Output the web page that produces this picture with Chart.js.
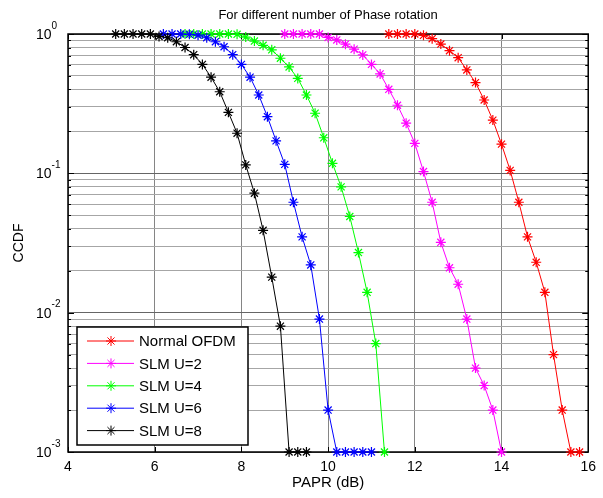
<!DOCTYPE html>
<html lang="en">
<head>
<meta charset="UTF-8">
<title>PAPR CCDF - Phase rotation</title>
<script src="https://cdn.jsdelivr.net/npm/chart.js"></script>
<style>
  html, body { margin: 0; padding: 0; background: #fff; }
</style>
</head>
<body>
<canvas id="ccdfChart" width="603" height="498"></canvas>
<script>
// series (PAPR in dB vs CCDF)
const seriesNames = ['Normal OFDM', 'SLM U=2', 'SLM U=4', 'SLM U=6', 'SLM U=8'];
const seriesColors = ['#ff0000', '#ff00ff', '#00ff00', '#0000ff', '#000000'];

const normalX = [11.4, 11.6, 11.8, 12.0, 12.2, 12.4, 12.6, 12.8, 13.0, 13.2, 13.4, 13.6,
                 13.8, 14.0, 14.2, 14.4, 14.6, 14.8, 15.0, 15.2, 15.4, 15.6, 15.8];
const normalY = [1, 1, 1, 1, 0.978, 0.925, 0.847, 0.759, 0.676, 0.552, 0.448, 0.336,
                 0.241, 0.162, 0.105, 0.062, 0.035, 0.023, 0.014, 0.005, 0.002, 0.001, 0.001];

const slm2X = [9.0, 9.2, 9.4, 9.6, 9.8, 10.0, 10.2, 10.4, 10.6, 10.8, 11.0, 11.2, 11.4,
               11.6, 11.8, 12.0, 12.2, 12.4, 12.6, 12.8, 13.0, 13.2, 13.4, 13.6, 13.8, 14.0];
const slm2Y = [1, 1, 1, 1, 1, 0.945, 0.906, 0.845, 0.778, 0.708, 0.605, 0.517, 0.401,
               0.308, 0.229, 0.164, 0.103, 0.062, 0.032, 0.021, 0.016, 0.009, 0.004, 0.003, 0.002, 0.001];

const slm4X = [6.7, 6.9, 7.1, 7.3, 7.5, 7.7, 7.9, 8.1, 8.3, 8.5, 8.7, 8.9,
               9.1, 9.3, 9.5, 9.7, 9.9, 10.1, 10.3, 10.5, 10.7, 10.9, 11.1, 11.3];
const slm4Y = [1, 1, 1, 1, 1, 1, 0.995, 0.95, 0.89, 0.83, 0.77, 0.67,
               0.58, 0.48, 0.365, 0.27, 0.18, 0.118, 0.08, 0.049, 0.027, 0.014, 0.006, 0.001];

const slm6X = [6.2, 6.4, 6.6, 6.8, 7.0, 7.2, 7.4, 7.6, 7.8, 8.0, 8.2, 8.4, 8.6,
               8.8, 9.0, 9.2, 9.4, 9.6, 9.8, 10.0, 10.2, 10.4, 10.6, 10.8, 11.0];
const slm6Y = [1, 1, 1, 0.995, 0.98, 0.94, 0.88, 0.81, 0.71, 0.605, 0.49, 0.365, 0.255,
               0.171, 0.116, 0.062, 0.035, 0.022, 0.009, 0.002, 0.001, 0.001, 0.001, 0.001, 0.001];

const slm8X = [5.1, 5.3, 5.5, 5.7, 5.9, 6.1, 6.3, 6.5, 6.7, 6.9, 7.1, 7.3,
               7.5, 7.7, 7.9, 8.1, 8.3, 8.5, 8.7, 8.9, 9.1, 9.3, 9.5];
const slm8Y = [1, 1, 1, 1, 1, 0.96, 0.94, 0.88, 0.80, 0.71, 0.605, 0.49,
               0.385, 0.274, 0.194, 0.115, 0.072, 0.039, 0.018, 0.008, 0.001, 0.001, 0.001];

const xTicks = [4, 6, 8, 10, 12, 14, 16];
const yDecades = [0.001, 0.01, 0.1, 1];
const yExponents = ['-3', '-2', '-1', '0'];
const yMinorSteps = [1, 2, 3, 4, 5, 6, 7, 8, 9];

const seriesX = [normalX, slm2X, slm4X, slm6X, slm8X];
const seriesY = [normalY, slm2Y, slm4Y, slm6Y, slm8Y];

const FONT = "Arial, 'Liberation Sans', sans-serif";
Chart.defaults.font.family = FONT;
Chart.defaults.color = '#000';

function drawStar(ctx, cx, cy, r, color) {
  const d = Math.cos(Math.PI / 4) * r;
  ctx.strokeStyle = color;
  ctx.lineWidth = 1;
  ctx.beginPath();
  ctx.moveTo(cx - r, cy); ctx.lineTo(cx + r, cy);
  ctx.moveTo(cx, cy - r); ctx.lineTo(cx, cy + r);
  ctx.moveTo(cx - d, cy - d); ctx.lineTo(cx + d, cy + d);
  ctx.moveTo(cx - d, cy + d); ctx.lineTo(cx + d, cy - d);
  ctx.stroke();
}

// box, inside tick marks, 10^n labels and the legend, matlab style
const matlabAxes = {
  id: 'matlabAxes',
  beforeDatasetsDraw(chart) {
    const {ctx, chartArea: a, scales: {x, y}} = chart;
    ctx.save();
    ctx.strokeStyle = '#000';
    ctx.lineWidth = 1;
    ctx.beginPath();
    y.ticks.forEach(t => {
      const py = Math.round(y.getPixelForValue(t.value)) + 0.5;
      const len = yDecades.includes(t.value) ? 6 : 3;
      ctx.moveTo(a.left, py); ctx.lineTo(a.left + len, py);
      ctx.moveTo(a.right, py); ctx.lineTo(a.right - len, py);
    });
    x.ticks.forEach(t => {
      const px = Math.round(x.getPixelForValue(t.value)) + 0.5;
      ctx.moveTo(px, a.bottom); ctx.lineTo(px, a.bottom - 5);
      ctx.moveTo(px, a.top); ctx.lineTo(px, a.top + 5);
    });
    ctx.stroke();
    ctx.lineWidth = 1.5;
    ctx.strokeRect(a.left, a.top, a.right - a.left, a.bottom - a.top);
    ctx.restore();
  },
  afterDraw(chart) {
    const {ctx, chartArea: a, scales: {y}} = chart;
    ctx.save();
    ctx.fillStyle = '#000';
    ctx.textBaseline = 'middle';
    ctx.textAlign = 'left';
    yDecades.forEach((d, i) => {
      const py = y.getPixelForValue(d);
      ctx.font = '14px ' + FONT;
      ctx.fillText('10', 36, py + 1);
      const w = ctx.measureText('10').width;
      ctx.font = '10px ' + FONT;
      ctx.fillText(yExponents[i], 36 + w, py - 8);
    });

    // legend box, lower left inside the axes
    const bw = 171, bh = 118;
    const bx = a.left + 9, by = a.bottom - 7 - bh;
    ctx.fillStyle = '#fff';
    ctx.fillRect(bx, by, bw, bh);
    ctx.strokeStyle = '#000';
    ctx.lineWidth = 1.5;
    ctx.strokeRect(bx, by, bw, bh);
    ctx.font = '15px ' + FONT;
    chart.data.datasets.forEach((ds, i) => {
      const ry = by + 14 + i * 22.4;
      ctx.strokeStyle = ds.borderColor;
      ctx.lineWidth = 1;
      ctx.beginPath();
      ctx.moveTo(bx + 10, ry); ctx.lineTo(bx + 57, ry);
      ctx.stroke();
      drawStar(ctx, bx + 34, ry, 5, ds.borderColor);
      ctx.fillStyle = '#000';
      ctx.fillText(ds.label, bx + 62, ry + 1);
    });
    ctx.restore();
  }
};

const datasets = seriesNames.map((name, i) => ({
  label: name,
  data: seriesX[i].map((v, k) => ({x: v, y: seriesY[i][k]})),
  borderColor: seriesColors[i],
  backgroundColor: seriesColors[i],
  borderWidth: 1,
  pointStyle: 'star',
  pointRadius: 5,
  pointHoverRadius: 5,
  pointBorderWidth: 1.2,
  pointBorderColor: seriesColors[i],
  tension: 0,
  clip: false,
  order: seriesNames.length - i
}));

new Chart(document.getElementById('ccdfChart'), {
  type: 'line',
  data: { datasets: datasets },
  options: {
    responsive: false,
    animation: false,
    layout: { padding: { left: 0, right: 13, top: 0, bottom: 0 } },
    plugins: {
      legend: { display: false },
      tooltip: { enabled: false },
      title: {
        display: true,
        text: 'For different number of Phase rotation',
        font: { size: 13, weight: 'normal' },
        color: '#000',
        fullSize: false,
        padding: { top: 8, bottom: 10.4 }
      }
    },
    scales: {
      x: {
        type: 'linear',
        min: 4,
        max: 16,
        afterBuildTicks: scale => { scale.ticks = xTicks.map(v => ({value: v})); },
        afterFit: scale => { scale.height = 46; },
        ticks: { font: { size: 14 }, color: '#000', padding: 7, maxRotation: 0, autoSkip: false },
        grid: { color: '#858585', lineWidth: 1, drawTicks: false },
        border: { display: false },
        title: {
          display: true,
          text: 'PAPR (dB)',
          font: { size: 15 },
          color: '#000',
          padding: { top: 0, bottom: 6 }
        }
      },
      y: {
        type: 'logarithmic',
        min: 0.001,
        max: 1,
        afterBuildTicks: scale => {
          const ticks = [];
          yDecades.slice(0, -1).forEach(d => {
            yMinorSteps.forEach(m => ticks.push({value: +(d * m).toPrecision(3)}));
          });
          ticks.push({value: 1});
          scale.ticks = ticks;
        },
        afterFit: scale => { scale.width = 68; },
        ticks: { display: false },
        grid: {
          color: c => (c.tick && yDecades.includes(c.tick.value)) ? '#666666' : '#a6a6a6',
          lineWidth: 1,
          drawTicks: false
        },
        border: { display: false },
        title: {
          display: true,
          text: 'CCDF',
          font: { size: 14 },
          color: '#000',
          padding: { top: 11, bottom: 0 }
        }
      }
    }
  },
  plugins: [matlabAxes]
});
</script>
</body>
</html>
